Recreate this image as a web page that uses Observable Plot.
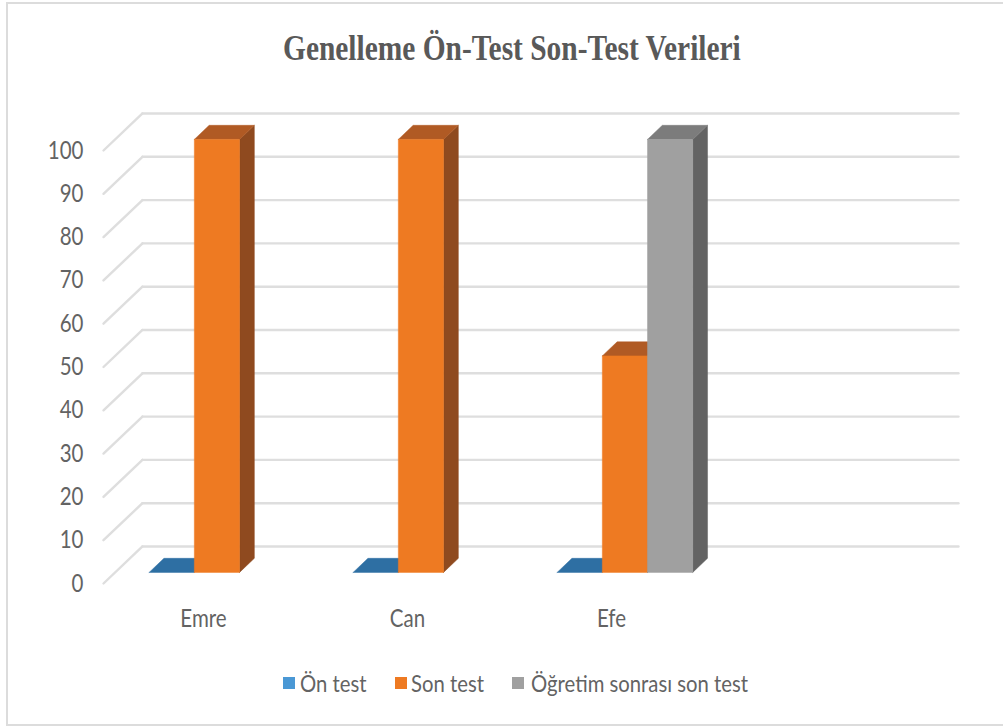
<!DOCTYPE html>
<html>
<head>
<meta charset="utf-8">
<script src="https://cdn.jsdelivr.net/npm/d3@7"></script>
<script src="https://cdn.jsdelivr.net/npm/@observablehq/plot@0.6"></script>
<style>
  html, body { margin: 0; padding: 0; background: #fff; }
  #frame { position: relative; width: 1003px; height: 726px; box-sizing: border-box; overflow: hidden; }
  #border { position: absolute; left: 6px; top: 2px; right: -4px; bottom: 0; border: 2px solid #dcdcdc; }
  #title { position: absolute; left: 282.5px; top: 27px; transform-origin: left top; transform: scaleX(0.817); font: bold 36px "Liberation Serif", serif; color: #595959; white-space: nowrap; }
  #chart { position: absolute; left: 0; top: 0; }
  #legend { position: absolute; top: 669.5px; left: 0; font: 24px Lato, sans-serif; color: #636363; }
  #legend div { position: absolute; white-space: nowrap; line-height: 26px; transform-origin: left center; transform: scaleX(0.845); }
  #legend span { position: absolute; width: 12px; height: 12px; top: 7px; }
</style>
</head>
<body>
<div id="frame">
  <div id="border"></div>
  <div id="chart"></div>
  <div id="title">Genelleme Ön-Test Son-Test Verileri</div>
  <div id="legend"></div>
</div>
<script>
const categories = ["Emre", "Can", "Efe"];
const seriesNames = ["Ön test", "Son test", "Öğretim sonrası son test"];
const onTest = [0, 0, 0];
const sonTest = [100, 100, 50];
const ogretim = [null, null, 100];
const seriesValues = [onTest, sonTest, ogretim];
const yTicks = [0, 10, 20, 30, 40, 50, 60, 70, 80, 90, 100];
const frontColors = ["#4a98d5", "#ee7a22", "#a0a0a0"];
const topColors = ["#2e6fa3", "#b05a24", "#7c7c7c"];
const sideColors = ["#255a87", "#8f4a1f", "#636363"];

// Categories are slots 0..4 (fourth slot is empty in the reference).
const slots = 4;
// Depth of the floor, in data units of each axis.
const depthX = 0.191, depthY = 8.55;
const barNear = 0.3, barFar = 0.68;
const groupStart = 0.1665, seriesWidth = 0.2215;

const P = (x, y, d) => ({x: x + d * depthX, y: y + d * depthY});

const gridFront = yTicks.flatMap(t => [P(0, t, 0), P(0, t, 1)].map(p => ({...p, t})));
const gridBack = yTicks.flatMap(t => [P(0, t, 1), P(slots, t, 1)].map(p => ({...p, t})));

const faces = [];
categories.forEach((c, i) => {
  seriesValues.forEach((vals, s) => {
    const v = vals[i];
    if (v == null) return;
    const x0 = i + groupStart + s * seriesWidth, x1 = x0 + seriesWidth;
    const poly = (color, pts) => faces.push({color, pts});
    if (v > 0) poly(sideColors[s], [P(x1, 0, barNear), P(x1, 0, barFar), P(x1, v, barFar), P(x1, v, barNear)]);
    poly(topColors[s], [P(x0, v, barNear), P(x1, v, barNear), P(x1, v, barFar), P(x0, v, barFar)]);
    if (v > 0) poly(frontColors[s], [P(x0, 0, barNear), P(x1, 0, barNear), P(x1, v, barNear), P(x0, v, barNear)]);
  });
});

const plot = Plot.plot({
  width: 1003,
  height: 726,
  margin: 0,
  style: {background: "transparent", overflow: "visible"},
  x: {domain: [0, slots], range: [103, 919], axis: null},
  y: {domain: [0, 100], range: [583, 150], axis: null},
  marks: [
    Plot.line(gridFront, {x: "x", y: "y", z: "t", stroke: "#dedede", strokeWidth: 2.4}),
    Plot.line(gridBack, {x: "x", y: "y", z: "t", stroke: "#dedede", strokeWidth: 2.4}),
    ...faces.map(f => Plot.line([...f.pts, f.pts[0]], {x: "x", y: "y", fill: f.color, stroke: f.color, strokeWidth: 0.5})),
    Plot.text(yTicks, {x: 0, y: d => d, text: d => String(d), dx: -20, dy: 0, textAnchor: "end", fontFamily: "Lato, sans-serif", fontSize: 25, fill: "#636363"}),
    Plot.text(categories, {x: (d, i) => i + 0.5, y: 0, text: d => d, dx: -2, dy: 35, textAnchor: "middle", fontFamily: "Lato, sans-serif", fontSize: 25, fill: "#636363"})
  ]
});
// Same narrow, tall letterforms as the reference.
d3.select(plot).selectAll("text").each(function() {
  const tr = this.getAttribute("transform") || "";
  this.setAttribute("transform", tr + " scale(0.82,1)");
});
document.getElementById("chart").appendChild(plot);

const legendSwatchX = [283, 395, 512];
const legendTextX = [300, 411, 531];
const legend = document.getElementById("legend");
seriesNames.forEach((name, i) => {
  const sw = document.createElement("span");
  sw.style.left = legendSwatchX[i] + "px";
  sw.style.background = frontColors[i];
  legend.appendChild(sw);
  const t = document.createElement("div");
  t.style.left = legendTextX[i] + "px";
  t.textContent = name;
  legend.appendChild(t);
});
</script>
</body>
</html>
